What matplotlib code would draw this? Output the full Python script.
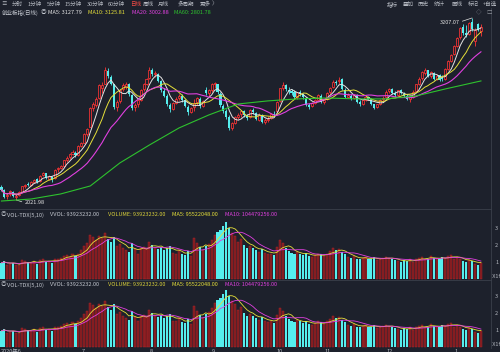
import matplotlib
matplotlib.use("Agg")
import matplotlib.pyplot as plt
import matplotlib.transforms as mtransforms
import numpy as np
import pandas as pd

plt.rcParams['font.family'] = ['Noto Sans CJK SC', 'DejaVu Sans']

# 创业板指 daily bars, late May 2020 .. mid Jan 2021
opens = [
    2105, 2085, 2045, 2058, 2076, 2042, 2052,
    # June
    2075, 2110, 2125, 2120, 2138, 2158, 2145, 2182, 2195, 2160,
    2170, 2165, 2222, 2232, 2242, 2282, 2300, 2320, 2330, 2315,
    # July
    2375, 2395, 2452, 2500, 2620, 2640, 2685, 2750, 2780, 2862, 2825, 2775,
    2630, 2665, 2742, 2760, 2775, 2705, 2625, 2645, 2672, 2745, 2780,
    # August
    2815, 2865, 2840, 2845, 2795, 2730, 2700, 2640, 2615, 2655, 2685,
    2700, 2670, 2630, 2595, 2628, 2658, 2680, 2635, 2740, 2720,
    # September
    2738, 2778, 2775, 2715, 2635, 2600, 2565, 2492, 2525, 2565, 2580,
    2598, 2570, 2560, 2608, 2588, 2545, 2575, 2530, 2545, 2555, 2580,
    # October
    2600, 2665, 2750, 2770, 2740, 2732, 2722, 2690, 2725, 2710, 2688,
    2640, 2632, 2655, 2675, 2702,
    # November
    2660, 2680, 2722, 2760, 2790, 2795, 2808, 2740, 2695, 2702, 2685,
    2705, 2660, 2650, 2675, 2690, 2678, 2645, 2625, 2648, 2678,
    # December
    2692, 2730, 2742, 2718, 2708, 2738, 2715, 2702, 2680, 2692, 2730, 2778,
    2815, 2850, 2865, 2828, 2850, 2810, 2835, 2820, 2810, 2875, 2930,
    # January
    2975, 3025, 3080, 3150, 3112, 3105, 3180, 3060, 3165, 3125,
]
highs = [
    2118, 2092, 2062, 2085, 2080, 2058, 2078,
    2115, 2128, 2140, 2145, 2160, 2165, 2185, 2205, 2200, 2185,
    2175, 2225, 2238, 2248, 2285, 2305, 2325, 2345, 2340, 2378,
    2400, 2455, 2490, 2625, 2660, 2690, 2775, 2790, 2885, 2878, 2838, 2780,
    2675, 2745, 2785, 2790, 2785, 2712, 2655, 2680, 2745, 2785, 2815,
    2885, 2878, 2860, 2850, 2800, 2750, 2712, 2655, 2660, 2690, 2715,
    2710, 2680, 2640, 2630, 2680, 2695, 2690, 2675, 2755, 2745,
    2785, 2792, 2780, 2725, 2648, 2615, 2572, 2530, 2570, 2590, 2610,
    2605, 2580, 2612, 2620, 2592, 2585, 2580, 2555, 2568, 2590, 2598,
    2665, 2752, 2790, 2778, 2755, 2742, 2735, 2728, 2738, 2718, 2690,
    2652, 2660, 2680, 2712, 2710,
    2682, 2725, 2758, 2800, 2805, 2825, 2815, 2748, 2718, 2710, 2715,
    2712, 2670, 2678, 2700, 2702, 2685, 2650, 2650, 2680, 2700,
    2735, 2752, 2750, 2730, 2740, 2745, 2725, 2712, 2700, 2735, 2780, 2820,
    2860, 2882, 2870, 2862, 2858, 2840, 2845, 2835, 2880, 2935, 2975,
    3030, 3085, 3150, 3165, 3160, 3180, 3207.07, 3140, 3172, 3165,
]
lows = [
    2080, 2035, 2030, 2050, 2038, 2021.98, 2045,
    2072, 2100, 2110, 2112, 2130, 2135, 2140, 2175, 2160, 2150,
    2140, 2160, 2205, 2222, 2238, 2270, 2290, 2312, 2300, 2310,
    2365, 2390, 2440, 2495, 2600, 2625, 2680, 2720, 2775, 2815, 2770, 2615,
    2600, 2655, 2730, 2745, 2700, 2610, 2600, 2630, 2665, 2730, 2770,
    2810, 2830, 2820, 2790, 2725, 2690, 2635, 2595, 2605, 2645, 2670,
    2660, 2625, 2575, 2588, 2600, 2640, 2620, 2628, 2705, 2700,
    2725, 2750, 2710, 2630, 2590, 2550, 2478, 2480, 2515, 2550, 2565,
    2565, 2545, 2555, 2580, 2540, 2538, 2525, 2515, 2530, 2548, 2565,
    2595, 2660, 2740, 2730, 2715, 2705, 2680, 2682, 2700, 2680, 2635,
    2615, 2625, 2648, 2668, 2655,
    2645, 2672, 2715, 2752, 2772, 2780, 2735, 2688, 2685, 2670, 2678,
    2655, 2635, 2642, 2668, 2670, 2640, 2612, 2618, 2640, 2660,
    2688, 2718, 2712, 2695, 2700, 2710, 2690, 2675, 2660, 2688, 2725, 2770,
    2805, 2835, 2820, 2815, 2800, 2800, 2795, 2798, 2805, 2870, 2920,
    2965, 3015, 3070, 3095, 3085, 3098, 3120, 3022, 3120, 3090,
]
closes = [
    2088, 2042, 2056, 2078, 2045, 2050, 2072,
    2112, 2122, 2118, 2140, 2155, 2142, 2180, 2198, 2168, 2178,
    2150, 2220, 2230, 2240, 2280, 2298, 2318, 2335, 2312, 2372,
    2392, 2450, 2483, 2618, 2645, 2680, 2768, 2772, 2868, 2828, 2780, 2625,
    2660, 2740, 2772, 2775, 2712, 2618, 2640, 2670, 2740, 2778, 2808,
    2870, 2842, 2848, 2798, 2735, 2702, 2645, 2612, 2652, 2682, 2698,
    2672, 2635, 2592, 2622, 2655, 2685, 2632, 2668, 2718, 2735,
    2775, 2782, 2722, 2640, 2602, 2560, 2488, 2522, 2562, 2575, 2600,
    2572, 2558, 2605, 2592, 2548, 2578, 2532, 2542, 2550, 2582, 2575,
    2658, 2748, 2772, 2742, 2730, 2718, 2692, 2722, 2712, 2690, 2642,
    2630, 2652, 2672, 2705, 2662,
    2675, 2720, 2752, 2792, 2785, 2805, 2742, 2695, 2705, 2680, 2708,
    2662, 2648, 2672, 2692, 2680, 2648, 2622, 2645, 2675, 2688,
    2728, 2745, 2720, 2705, 2735, 2718, 2700, 2682, 2690, 2728, 2775, 2812,
    2852, 2868, 2830, 2852, 2812, 2832, 2805, 2808, 2872, 2928, 2966,
    3022, 3078, 3142, 3108, 3098, 3172, 3132, 3128, 3130, 3150,
]
# volume, x 1e8
volumes = [
    0.95, 1.05, 0.85, 0.90, 0.95, 0.85, 0.80,
    1.10, 1.05, 1.00, 0.95, 1.05, 0.90, 1.10, 1.20, 1.00, 1.05,
    0.95, 1.15, 1.20, 1.25, 1.35, 1.40, 1.30, 1.45, 1.35, 1.50,
    1.70, 1.95, 2.10, 2.60, 2.45, 2.30, 2.55, 2.40, 2.70, 2.35, 2.20, 2.50,
    1.95, 2.05, 1.85, 1.70, 1.60, 2.10, 1.75, 1.50, 1.85, 1.90, 1.80,
    2.20, 2.00, 1.85, 1.75, 1.90, 1.70, 1.80, 1.95, 1.55, 1.50, 1.70,
    1.45, 1.40, 1.65, 1.35, 2.40, 2.10, 1.90, 1.70, 1.95, 2.05,
    2.30, 2.60, 2.75, 2.90, 3.10, 3.35, 3.00, 2.70, 2.55, 2.20, 2.35,
    2.00, 1.80, 1.95, 1.85, 1.70, 1.60, 1.75, 1.55, 1.45, 1.50, 1.40,
    1.90, 2.30, 2.10, 1.80, 1.65, 1.55, 1.45, 1.60, 1.50, 1.40, 1.55,
    1.35, 1.30, 1.40, 1.50, 1.45,
    1.35, 1.50, 1.65, 1.80, 1.70, 1.75, 1.60, 1.45, 1.30, 1.25, 1.35,
    1.20, 1.15, 1.25, 1.30, 1.20, 1.15, 1.30, 1.10, 1.20, 1.25,
    1.30, 1.25, 1.15, 1.10, 1.05, 1.00, 1.10, 1.05, 1.20, 1.00, 1.15, 1.25,
    1.30, 1.20, 1.15, 1.35, 1.25, 1.20, 1.15, 1.30, 1.25, 1.35, 1.40,
    1.20, 1.30, 1.15, 1.05, 1.00, 1.10, 1.05, 0.90, 0.85, 0.94,
]

# MA60 (not enough history in view to compute it)
ma60_days = [0, 10, 20, 30, 40, 50, 60, 70, 80, 90, 100, 110, 120, 130, 140, 150, 162]
ma60_values = [2015, 2028, 2061, 2113, 2263, 2380, 2491, 2575, 2647, 2667,
               2680, 2686, 2680, 2680, 2699, 2745, 2797]

month_starts = [7, 27, 50, 71, 93, 109, 130, 153]
month_labels = ['2020年6', '7', '8', '9', '10', '11', '12', '1']

BG = '#1d212c'
GRID = '#3a3f4b'
TXT = '#b4b8c0'
UP = '#ff3434'
DOWN = '#55eeee'
VOL_UP = '#7a1c20'
C_MA5 = '#e4e4e4'
C_MA10 = '#e6e03a'
C_MA20 = '#e040e0'
C_MA60 = '#2ec22e'
FS = 4.0

o = np.array(opens, dtype=float)
h = np.array(highs, dtype=float)
l = np.array(lows, dtype=float)
c = np.array(closes, dtype=float)
v = np.array(volumes, dtype=float)
idx = np.arange(len(c))
up = c >= o

W, H = 500, 352
fig = plt.figure(figsize=(5, 3.52), dpi=100, facecolor=BG)


def px_axes(top, bottom, right=491):
    return fig.add_axes([0, 1 - bottom / H, right / W, (bottom - top) / H], facecolor=BG)


ax = px_axes(8, 209)
axv1 = px_axes(209, 280)
axv2 = px_axes(280, 348)

for a in (ax, axv1, axv2):
    a.set_xlim(-0.5, 165.4)
    a.set_xticks([])
    for s in ('left', 'bottom'):
        a.spines[s].set_visible(False)
    a.spines['right'].set_color(GRID)
    a.spines['top'].set_color(GRID)
    a.spines['right'].set_linewidth(0.6)
    a.spines['top'].set_linewidth(0.6)
ax.spines['top'].set_visible(False)
ax.set_yticks([])

# --- price panel ---
ax.set_ylim(1963, 3272)
ax.vlines(idx[up], l[up], h[up], color=UP, lw=0.6, zorder=2)
ax.vlines(idx[~up], l[~up], h[~up], color=DOWN, lw=0.6, zorder=2)
ax.bar(idx[up], np.maximum(c[up] - o[up], 1), bottom=o[up], width=0.7,
       facecolor=BG, edgecolor=UP, linewidth=0.55, zorder=3)
ax.bar(idx[~up], np.maximum(o[~up] - c[~up], 2), bottom=c[~up], width=0.7,
       color=DOWN, linewidth=0, zorder=3)

cs = pd.Series(c)
ax.plot(idx, cs.rolling(5, min_periods=1).mean(), color=C_MA5, lw=0.7, zorder=4)
ax.plot(idx, cs.rolling(10, min_periods=1).mean(), color=C_MA10, lw=0.7, zorder=4)
ax.plot(idx, cs.rolling(20, min_periods=1).mean(), color=C_MA20, lw=0.8, zorder=4)
ax.plot(ma60_days, ma60_values, color=C_MA60, lw=0.8, zorder=4)

hi = int(np.argmax(h))
lo = int(np.argmin(l))
ax.annotate(f'{h[hi]:.2f}', xy=(hi, h[hi]), xytext=(-9, -3), textcoords='offset points',
            ha='right', va='center', color='#e0e0e0', fontsize=FS,
            arrowprops=dict(arrowstyle='-', color='#e0e0e0', lw=0.5, relpos=(1, 0.5),
                            shrinkA=0, shrinkB=0))
ax.annotate(f'{l[lo]:.2f}', xy=(lo, l[lo]), xytext=(6, -2), textcoords='offset points',
            ha='left', va='center', color='#e0e0e0', fontsize=FS,
            arrowprops=dict(arrowstyle='-', color='#e0e0e0', lw=0.5, relpos=(0, 0.5),
                            shrinkA=0, shrinkB=0))

# --- volume panels (same indicator twice) ---
vs = pd.Series(v)
vma5 = vs.rolling(5, min_periods=1).mean()
vma10 = vs.rolling(10, min_periods=1).mean()
for a, top in ((axv1, 4.12), (axv2, 3.94)):
    a.set_ylim(-0.06, top)
    a.bar(idx[up], v[up], width=0.7, facecolor=VOL_UP, edgecolor='#b82428', linewidth=0.3)
    a.bar(idx[~up], v[~up], width=0.7, color=DOWN, linewidth=0)
    a.plot(idx, vma5, color=C_MA10, lw=0.6)
    a.plot(idx, vma10, color=C_MA20, lw=0.6)
    a.yaxis.tick_right()
    a.set_yticks([1, 2, 3])
    a.set_yticklabels(['1', '2', '3'])
    a.tick_params(axis='y', length=0, pad=3, labelsize=FS, labelcolor=TXT)
    a.text(1.0, 0.02, ' X1亿', transform=a.transAxes, ha='left', va='bottom',
           fontsize=FS, color=TXT, clip_on=False)

trans = mtransforms.blended_transform_factory(axv2.transData, axv2.transAxes)
for k, (pos, lab) in enumerate(zip(month_starts, month_labels)):
    x = pos if k else -0.3
    axv2.text(x, -0.02, lab, transform=trans, ha='left', va='top',
              fontsize=FS, color=TXT, clip_on=False)


def ftext(x, y, s, color=TXT, **kw):
    fig.text(x / W, 1 - y / H, s, color=color, fontsize=FS, va='center', ha='left', **kw)


# top toolbar
toolbar_left = ['≡', '分时', '1分钟', '5分钟', '15分钟', '30分钟', '60分钟',
                '日线', '周线', '月线', '多周期', '更多', '〉']
toolbar_left_x = [1, 12, 28, 47, 65, 87, 108, 130, 143, 158, 178, 200, 212]
for s, x in zip(toolbar_left, toolbar_left_x):
    ftext(x, 4, s, '#ef4a44' if s == '日线' else TXT)
toolbar_right = ['指标', '叠加', '历史', '统计', '画线', '标记', '+自选']
toolbar_right_x = [387, 403, 418, 434, 452, 468, 483]
for s, x in zip(toolbar_right, toolbar_right_x):
    ftext(x, 4, s)
ftext(476, 13, '◇', '#8a8e96')
ftext(486, 13, '□', '#8a8e96')

# legends
ftext(2, 13, '创业板指(日线)', '#c4c8d0')
ftext(41, 13, '◎', '#c4c8d0')
ftext(48, 13, 'MA5: 3127.79', C_MA5)
ftext(88, 13, 'MA10: 3125.81', C_MA10)
ftext(132, 13, 'MA20: 3002.88', C_MA20)
ftext(174, 13, 'MA60: 2801.78', C_MA60)

for y in (215, 285):
    ftext(1, y, '◎', TXT)
    ftext(7, y, 'VOL-TDX(5,10)', '#c4c8d0')
    ftext(50, y, 'VVOL: 93923232.00', '#c4c8d0')
    ftext(108, y, 'VOLUME: 93923232.00', '#d8cf3a')
    ftext(172, y, 'MA5: 95522048.00', C_MA10)
    ftext(225, y, 'MA10: 104479256.00', C_MA20)

fig.savefig('out.png', dpi=100, facecolor=BG)
